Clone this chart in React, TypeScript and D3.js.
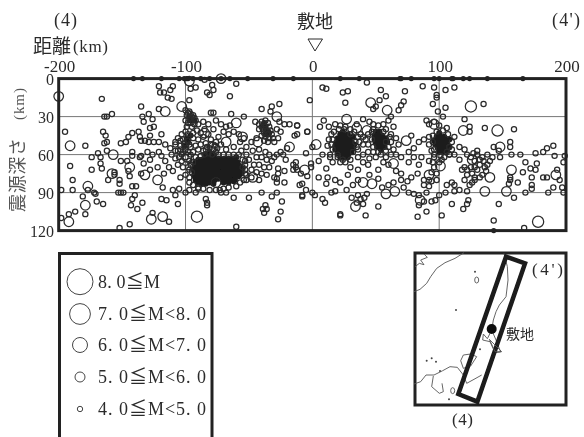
import React from "react";
import * as d3 from "d3";

type P = [number, number];

const distanceTicks = [-200, -100, 0, 100, 200];
const depthTicks = [0, 30, 60, 90, 120];
const gridDistances = [-100, 0, 100];
const gridDepths = [30, 60, 90];

// shallow events sitting on the top edge, and deep ones on the bottom edge
const edgeEvents: P[] = [[-141,0],[-134,0],[-119,0],[-105,0],[-101,0],[-99,0],[-98,0],[-94,0],[-88,0],[-81,0],[-72,0],[-65,0],[-51,0],[-31,0],[-15,0],[22,0],[37,0],[69,0],[70,0],[78,0],[96,0],[100,0],[110,0],[111,0],[119,0],[124,0],[138,0],[166,0],[143,120]];

// M 4-5, west of the site
const westSmall: P[] = [[-166,16],[-195,42],[-179,53],[-174,62],[-174,72],[-191,69],[-189,80],[-198,88],[-189,88],[-181,93],[-177,88],[-172,90],[-171,91],[-170,97],[-165,99],[-179,107],[-187,105],[-192,107],[-198,110],[-169,59],[-167,62],[-167,67],[-166,71],[-165,42],[-163,45],[-162,50],[-162,57],[-164,51],[-164,30],[-162,30],[-158,28],[-161,80],[-156,74],[-156,76],[-152,80],[-152,83],[-153,90],[-151,90],[-149,90],[-151,51],[-147,50],[-145,46],[-142,43],[-137,42],[-136,46],[-151,65],[-146,65],[-142,58],[-142,61],[-136,62],[-135,61],[-145,73],[-144,77],[-135,75],[-142,85],[-139,85],[-142,95],[-140,92],[-143,100],[-138,103],[-134,98],[-152,118],[-144,115],[-126,106],[-119,95],[-115,96],[-106,99],[-113,113],[-110,88],[-108,92],[-100,90],[-97,88],[-104,78],[-118,86],[-122,70],[-126,60],[-130,58],[-133,67],[-128,64],[-128,72],[-121,58],[-119,61],[-116,65],[-113,70],[-117,75],[-110,73],[-125,50],[-121,50],[-129,50],[-132,49],[-135,49],[-128,45],[-119,44],[-116,52],[-112,55],[-108,57],[-108,50],[-121,6],[-120,11],[-117,11],[-110,6],[-112,9],[-114,15],[-111,16],[-97,17],[-96,8],[-92,7],[-85,1],[-79,5],[-83,11],[-78,9],[-81,13],[-65,14],[-60,4],[-135,22],[-129,28],[-134,30],[-133,34],[-126,32],[-125,38],[-128,39],[-121,24],[-80,27],[-78,27],[-64,28],[-54,30],[-40,24],[-32,22],[-26,20],[-33,26],[-18,36],[-14,45],[-12,44],[-4,42],[-12,37],[-20,55],[-23,60],[-21,64],[-22,73],[-13,66],[-13,70],[-12,72],[-9,75],[-4,77],[-10,84],[-27,71],[-27,75],[-28,79],[-28,82],[-30,78],[-62,94],[-68,90],[-72,90],[-73,88],[-50,94],[-40,90],[-32,93],[-28,90],[-22,82],[-84,95],[-83,98],[-83,100],[-36,103],[-39,103],[-38,106],[-37,100],[-24,97],[-25,105],[-27,111],[-60,117],[-90,86],[-92,90],[-105,87]];

const westCloud: P[] = [[-100,25],[-97,26],[-96,28],[-99,29],[-95,30],[-97,32],[-94,29],[-92,33],[-96,35],[-99,38],[-95,38],[-90,36],[-86,34],[-82,36],[-85,40],[-91,41],[-88,43],[-94,43],[-98,44],[-103,44],[-106,47],[-102,48],[-98,49],[-94,47],[-90,48],[-86,46],[-82,44],[-78,40],[-76,33],[-72,36],[-68,38],[-65,37],[-70,42],[-66,44],[-62,42],[-58,44],[-74,46],[-80,48],[-76,50],[-72,52],[-84,51],[-88,52],[-92,53],[-96,54],[-100,53],[-104,53],[-108,52],[-106,57],[-102,58],[-98,58],[-94,58],[-90,56],[-100,62],[-103,65],[-105,62],[-97,65],[-106,68],[-102,70],[-98,70],[-95,74],[-100,76],[-108,63],[-111,60],[-84,56],[-81,55],[-78,56],[-76,58],[-82,59],[-79,60],[-85,60],[-88,61],[-68,56],[-62,54],[-57,50],[-54,47],[-52,54],[-48,50],[-44,47],[-56,57],[-52,60],[-47,57],[-42,56],[-37,58],[-34,60],[-30,62],[-44,62],[-40,62],[-36,64],[-32,65],[-25,58],[-28,60],[-50,64],[-46,68],[-42,68],[-38,70],[-34,70],[-48,72],[-44,74],[-40,75],[-36,76],[-52,76],[-48,78],[-42,80],[-52,80],[-55,70],[-53,65],[-40,34],[-37,33],[-42,36],[-38,36],[-35,35],[-40,38],[-37,38],[-34,38],[-39,40],[-36,41],[-33,41],[-38,43],[-35,44],[-32,44],[-40,45],[-37,46],[-34,47],[-31,47],[-38,49],[-35,50],[-42,40],[-45,34],[-28,40],[-25,42],[-27,47],[-30,50],[-22,36],[-26,34],[-98,27],[-93,31],[-96,31],[-100,33],[-98,35],[-93,36],[-100,42],[-104,49],[-101,51],[-97,52],[-104,56],[-100,56],[-96,60],[-103,60],[-92,62],[-94,66],[-96,68],[-97,72],[-97,78],[-97,82],[-94,84],[-90,87],[-86,87],[-81,88],[-76,88],[-70,87],[-66,86],[-60,85],[-57,82],[-54,80],[-53,75],[-53,72],[-53,68],[-55,64],[-58,60],[-62,60],[-66,60],[-70,60],[-74,60],[-86,57],[-75,55],[-77,53],[-80,52],[-83,54]];

// the nearly solid patches
const westBlob: P[] = [[-81,58],[-78,60],[-84,60],[-81,61],[-77,62],[-74,63],[-90,64],[-87,64],[-84,63],[-81,63],[-78,64],[-75,65],[-72,64],[-69,63],[-66,63],[-63,63],[-60,62],[-92,66],[-89,67],[-86,66],[-83,66],[-80,67],[-77,67],[-74,67],[-71,66],[-68,66],[-65,66],[-62,65],[-59,66],[-93,69],[-90,69],[-87,69],[-84,69],[-81,69],[-78,70],[-75,69],[-72,69],[-69,69],[-66,69],[-63,68],[-60,68],[-57,69],[-94,72],[-91,72],[-88,72],[-85,72],[-82,72],[-79,72],[-76,72],[-73,72],[-70,71],[-67,72],[-64,71],[-61,71],[-58,72],[-55,71],[-93,75],[-92,74],[-89,75],[-86,75],[-83,74],[-80,75],[-77,75],[-74,74],[-71,74],[-68,75],[-65,74],[-62,74],[-59,74],[-56,75],[-93,77],[-91,77],[-88,77],[-85,77],[-82,77],[-79,77],[-76,77],[-73,77],[-70,77],[-67,77],[-64,77],[-61,77],[-58,77],[-92,80],[-89,80],[-86,80],[-83,80],[-80,80],[-77,80],[-74,79],[-70,80],[-67,80],[-64,80],[-61,80],[-90,82],[-87,83],[-84,83],[-81,82],[-78,83],[-66,82],[-70,82],[-62,81],[-97,30],[-96,33],[-93,33],[-39,37],[-37,39],[-35,42],[-37,44],[-34,43],[-38,35],[-98,50],[-101,53],[-99,47],[-96,45]];

const eastBlobs: P[] = [[24,42],[22,44],[25,45],[28,44],[20,47],[23,47],[26,47],[29,47],[32,46],[19,50],[22,50],[25,50],[28,50],[31,50],[18,53],[21,53],[24,53],[27,53],[30,53],[33,52],[18,56],[21,56],[24,56],[27,56],[30,56],[32,55],[20,59],[23,59],[26,59],[29,59],[31,58],[22,62],[25,62],[28,62],[50,42],[53,42],[49,45],[52,45],[55,45],[49,48],[52,48],[55,48],[58,47],[50,51],[53,51],[56,51],[59,50],[51,54],[54,54],[57,54],[54,56],[100,43],[98,46],[101,46],[104,46],[96,49],[99,49],[102,49],[105,49],[108,48],[97,52],[100,52],[103,52],[106,52],[99,55],[102,55],[105,55],[108,54],[100,58],[103,58],[106,57]];

// M 4-5, east of the site
const eastSmall: P[] = [[8,7],[11,8],[24,11],[28,10],[26,19],[-2,17],[43,3],[54,9],[58,14],[53,17],[50,22],[48,24],[73,10],[72,18],[70,21],[68,25],[62,30],[87,6],[96,7],[105,9],[112,7],[98,13],[98,15],[95,20],[99,26],[105,23],[103,30],[135,20],[120,32],[124,38],[124,42],[136,39],[159,40],[9,33],[6,38],[13,38],[-12,37],[-4,42],[-5,59],[0,54],[5,65],[-1,67],[-1,70],[11,71],[-15,68],[-15,72],[5,78],[11,83],[-8,83],[-5,88],[-8,92],[-8,93],[0,90],[2,92],[8,95],[10,98],[18,89],[22,82],[22,108],[22,107],[42,108],[52,101],[83,109],[90,105],[102,108],[110,99],[119,103],[123,96],[122,99],[147,99],[143,112],[167,118],[159,94],[168,90],[173,87],[173,84],[186,90],[190,86],[197,86],[198,90],[185,78],[182,78],[195,80],[193,72],[166,74],[162,82],[156,78],[156,80],[155,83],[173,78],[176,72],[177,67],[176,59],[168,66],[172,71],[182,58],[185,55],[190,53],[191,61],[199,61],[198,66],[164,60],[156,50],[156,54],[157,60],[148,62],[143,54],[147,57],[31,94],[36,92],[38,95],[41,94],[35,98],[40,99],[43,91],[15,90],[27,88],[32,84],[36,80],[45,76],[52,79],[55,86],[60,84],[64,82],[70,80],[75,81],[78,78],[72,86],[76,90],[80,91],[84,92],[90,90],[84,100],[88,97],[94,97],[97,96],[100,92],[105,90],[112,89],[116,88],[122,89],[110,82],[106,84],[112,84],[120,80],[124,84],[126,82],[128,80],[88,84],[92,85],[94,81],[88,80],[96,70],[92,65],[96,62],[104,62],[108,60],[112,60],[116,64],[120,70],[83,75],[70,75],[66,73],[60,68],[56,66],[52,72],[44,68],[40,66],[36,72],[30,70],[24,64],[20,62],[14,62],[8,60],[28,76],[12,78],[18,80],[66,47],[68,52],[76,58],[80,55],[84,50],[88,48],[92,46],[78,45],[62,44],[58,40],[64,38],[80,62],[86,62],[76,66],[84,68],[70,62],[92,36],[90,33],[96,34],[100,37],[106,39],[112,46],[116,54],[120,56],[122,60]];

const eastCloud: P[] = [[18,36],[22,37],[26,38],[15,44],[13,48],[12,53],[16,56],[14,60],[20,60],[32,58],[35,54],[37,50],[38,44],[40,46],[42,48],[44,52],[40,52],[36,46],[33,42],[30,40],[35,36],[40,32],[45,34],[48,36],[52,37],[56,36],[60,33],[47,42],[47,48],[48,54],[44,58],[40,60],[36,62],[30,64],[26,66],[22,66],[16,66],[58,50],[60,54],[62,50],[64,56],[66,60],[62,60],[58,62],[54,60],[50,62],[45,63],[92,52],[95,50],[94,57],[96,60],[102,64],[100,66],[106,58],[108,54],[95,66],[98,75],[94,74],[92,80],[98,80],[118,72],[122,72],[125,70],[128,70],[130,72],[126,75],[122,76],[128,78],[132,78],[134,76],[137,73],[132,68],[128,65],[125,62],[130,60],[134,62],[138,60],[135,65],[138,68],[140,65],[142,62],[130,57],[127,59],[132,64],[136,70],[34,50],[36,56],[17,42],[21,40],[25,40],[30,44],[15,52],[16,48],[61,46],[56,42],[48,40],[44,44],[95,45],[98,42],[103,41],[107,44],[110,50],[110,56],[96,56],[108,60],[101,61],[52,58],[58,57],[48,58]];

// M 5-6 (roughly)
const mediumEvents: P[] = [[-191,53],[-157,60],[-158,75],[-177,85],[-179,100],[-192,113],[-127,111],[-118,109],[-132,76],[-144,70],[-122,80],[-60,35],[-85,43],[-55,46],[-18,54],[-28,30],[-43,50],[-72,0],[-97,2],[-68,50],[-99,62],[-78,54],[-47,78],[-200,14],[-116,26],[-103,22],[119,41],[46,19],[59,25],[27,32],[96,36],[3,52],[74,49],[148,54],[157,72],[140,78],[136,89],[153,89],[192,76],[85,96],[34,101],[58,91],[-6,72],[40,82],[101,69],[92,76],[64,67],[47,83],[65,89],[126,64],[43,41],[35,39],[-76,82]];

// M 6-7 as they are drawn on the section
const largeEvents: P[] = [[125,22],[146,41],[178,113],[-91,109]];

const legendRows = [
  { label: "8. 0≦M", r: 13 },
  { label: "7. 0≦M<8. 0", r: 10.4 },
  { label: "6. 0≦M<7. 0", r: 7.5 },
  { label: "5. 0≦M<6. 0", r: 5 },
  { label: "4. 0≦M<5. 0", r: 2.7 },
];
const legendRowY = [281.7, 314, 345, 377, 409];

// inset map, in its own local units
const mapCoasts: P[][] = [
  [[42,155],[60,148],[80,130],[92,110],[110,85],[135,68],[165,55],[192,38]],
  [[45,80],[58,70],[72,74],[62,60],[82,52],[72,42]],
  [[312,40],[322,80],[324,120],[318,170],[298,195],[288,215],[280,240],[275,270],[288,300],[302,336],[285,338],[270,305],[248,300],[250,282],[262,296],[275,270]],
  [[42,432],[62,425],[78,405],[102,405],[128,392],[150,380],[172,382],[190,405],[200,430],[222,418],[245,405]],
  [[100,408],[95,440],[118,460],[130,455],[126,430]],
  [[190,345],[212,342],[230,350],[212,378],[190,385],[182,362],[190,345]],
];
const mapIslands: P[] = [[230,120],[158,452]];
const mapDots: P[] = [[225,95],[168,210],[80,362],[95,355],[108,365],[120,393],[147,478],[240,328]];
const mapStrip: P[] = [[318,50],[375,70],[232,485],[175,462]];
const mapSite: P = [275,267];
const mapMarker: P[] = [[268,298],[285,335],[305,335]];

const INK = "#2b2b2b";
const SERIF = "'Liberation Serif','Noto Sans CJK JP',serif";
const CJK = "'Noto Sans CJK JP',sans-serif";

export default function App() {
  const x = d3.scaleLinear().domain([-200, 200]).range([58.7, 566]);
  const y = d3.scaleLinear().domain([0, 120]).range([78.6, 230.6]);
  const mx = d3.scaleLinear().domain([42, 500]).range([414, 566.7]);
  const my = d3.scaleLinear().domain([38, 495]).range([252.7, 405]);
  const coast = d3.line<P>().x(d => mx(d[0])).y(d => my(d[1]));

  const ring = (pts: P[], r: number, key: string) =>
    pts.map((p, i) => (
      <circle key={key + i} cx={x(p[0])} cy={y(p[1])} r={r} fill="none" stroke={INK} strokeWidth={1.25} />
    ));
  const solid = (pts: P[], key: string) =>
    pts.map((p, i) => (
      <circle key={key + i} cx={x(p[0])} cy={y(p[1])} r={3} fill="#1c1c1c" />
    ));

  return (
    <svg
      width={584}
      height={437}
      style={{ position: "absolute", left: 0, top: 0, background: "#fff" }}
    >
      <defs>
        <filter id="soft" x="0" y="0" width="100%" height="100%">
          <feGaussianBlur stdDeviation="0.35" />
        </filter>
      </defs>
      <g filter="url(#soft)">
        {/* header labels */}
        <g fill={INK} fontFamily={SERIF}>
          <text x={54} y={26} fontSize={18} textLength={23}>(4)</text>
          <text x={552} y={26} fontSize={18} textLength={28}>(4')</text>
          <text x={297} y={28} fontSize={18} fontFamily={CJK}>敷地</text>
          <text x={33} y={53} fontSize={19} fontFamily={CJK}>距離</text>
          <text x={73} y={52} fontSize={17} textLength={35}>(km)</text>
          {distanceTicks.map(t => (
            <text key={t} x={x(t) + 1} y={72} fontSize={17} textAnchor="middle">{t === 0 ? "0" : t < 0 ? "-" + -t : t}</text>
          ))}
          {depthTicks.map(t => (
            <text key={t} x={54} y={y(t) + 6} fontSize={16} textAnchor="end">{t}</text>
          ))}
        </g>
        <polygon
          points={[[308, 39], [322.5, 39], [315, 51]].map(p => p.join(",")).join(" ")}
          fill="none"
          stroke={INK}
          strokeWidth={1}
        />
        <g transform="translate(24,212) rotate(-90)" fill="#555">
          <text x={0} y={0} fontSize={18} fontFamily={CJK} textLength={74}>震源深さ</text>
          <text x={92} y={0} fontSize={15} fontFamily={SERIF} textLength={32}>(km)</text>
        </g>

        {/* grid */}
        {gridDistances.map(t => (
          <line key={t} x1={x(t)} x2={x(t)} y1={y(0)} y2={y(120)} stroke="#777" strokeWidth={1} />
        ))}
        {gridDepths.map(t => (
          <line key={t} x1={x(-200)} x2={x(200)} y1={y(t)} y2={y(t)} stroke="#777" strokeWidth={1} />
        ))}

        {/* events */}
        {solid(westBlob, "wb")}
        {solid(eastBlobs, "eb")}
        {ring(westSmall, 2.6, "ws")}
        {ring(westCloud, 2.6, "wc")}
        {ring(eastSmall, 2.6, "es")}
        {ring(eastCloud, 2.6, "ec")}
        {ring(mediumEvents, 4.8, "m")}
        {ring(largeEvents, 5.6, "l")}

        <rect x={x(-200)} y={y(0)} width={x(200) - x(-200)} height={y(120) - y(0)} fill="none" stroke="#222" strokeWidth={3} />
        {edgeEvents.map((p, i) => (
          <circle key={"e" + i} cx={x(p[0])} cy={y(p[1])} r={2.6} fill="#222" />
        ))}

        {/* legend, running off the page */}
        <rect x={59.5} y={253.5} width={152.5} height={200} fill="none" stroke="#222" strokeWidth={3} />
        {legendRows.map((row, i) => (
          <g key={row.label}>
            <circle cx={80} cy={legendRowY[i]} r={row.r} fill="none" stroke="#444" strokeWidth={1} />
            <text x={98} y={legendRowY[i] + 6} fontSize={18} fontFamily={SERIF} fill={INK} textLength={row.label.length > 7 ? 108 : 62}>{row.label}</text>
          </g>
        ))}

        {/* inset map */}
        <rect x={415} y={253} width={151} height={152} fill="none" stroke="#222" strokeWidth={3} />
        {mapCoasts.map((c, i) => (
          <path key={i} d={coast(c) ?? ""} fill="none" stroke="#555" strokeWidth={0.9} />
        ))}
        {mapIslands.map((p, i) => (
          <ellipse key={i} cx={mx(p[0])} cy={my(p[1])} rx={2} ry={3} fill="none" stroke="#555" strokeWidth={0.9} />
        ))}
        {mapDots.map((p, i) => (
          <circle key={i} cx={mx(p[0])} cy={my(p[1])} r={1} fill="#444" />
        ))}
        <polygon points={mapStrip.map(p => `${mx(p[0])},${my(p[1])}`).join(" ")} fill="none" stroke="#1a1a1a" strokeWidth={4.5} />
        <polygon points={mapMarker.map(p => `${mx(p[0])},${my(p[1])}`).join(" ")} fill="none" stroke="#555" strokeWidth={0.9} />
        <circle cx={mx(mapSite[0])} cy={my(mapSite[1])} r={5} fill="#111" />
        <text x={506} y={339} fontSize={14} fontFamily={CJK} fill={INK}>敷地</text>
        <text x={532} y={275} fontSize={17} fontFamily={SERIF} fill={INK} textLength={31}>(4')</text>
        <text x={452} y={425} fontSize={17} fontFamily={SERIF} fill={INK} textLength={21}>(4)</text>
      </g>
    </svg>
  );
}
